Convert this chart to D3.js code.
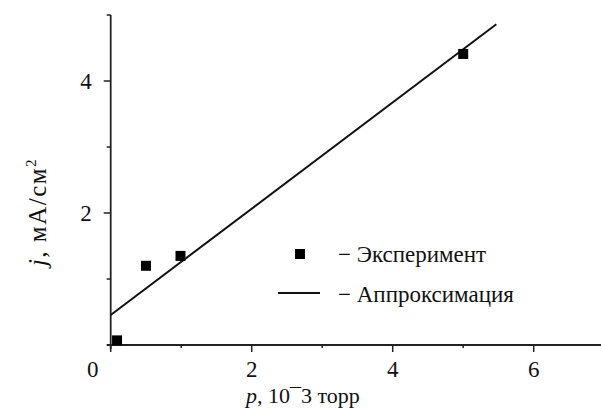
<!DOCTYPE html>
<html>
<head>
<meta charset="utf-8">
<script src="https://cdn.jsdelivr.net/npm/d3@7"></script>
<style>
  body { margin: 0; background: #fff; }
  text, tspan { font-family: 'Liberation Serif', 'Times New Roman', Tinos, serif !important; }
</style>
</head>
<body>
<svg id="chart" width="601" height="409"></svg>
<script>
// experiment points (p, j)
var expP = [0.09, 0.5, 0.99, 5.0];
var expJ = [0.07, 1.2, 1.35, 4.41];
// approximation line end points
var fitP = [0, 5.47];
var fitJ = [0.455, 4.86];

var xMajor = [0, 2, 4, 6];
var xMinor = [1, 3, 5];
var yMajor = [2, 4];
var yMinor = [1, 3, 5];

var legendNames = ["\u2212 Эксперимент", "\u2212 Аппроксимация"];

var FONT = "'Liberation Serif'";
var svg = d3.select("#chart");

var x = d3.scaleLinear().domain([0, 7]).range([110.7, 604.2]);
var y = d3.scaleLinear().domain([0, 5]).range([345, 15]);

var axisColor = "#222";
var textColor = "#111";

// x axis
var gx = svg.append("g").attr("transform", "translate(0," + y(0) + ")");
gx.append("line")
    .attr("x1", x(0) - 4).attr("x2", 601)
    .attr("stroke", axisColor).attr("stroke-width", 1.8);
gx.selectAll(".xmaj").data(xMajor).enter().append("line")
    .attr("x1", function(d) { return x(d); })
    .attr("x2", function(d) { return x(d); })
    .attr("y1", 0).attr("y2", 7)
    .attr("stroke", axisColor).attr("stroke-width", 1.5);
gx.selectAll(".xmin").data(xMinor).enter().append("line")
    .attr("x1", function(d) { return x(d); })
    .attr("x2", function(d) { return x(d); })
    .attr("y1", 0).attr("y2", 3)
    .attr("stroke", axisColor).attr("stroke-width", 1.5);
gx.selectAll(".xlab").data(xMajor).enter().append("text")
    .attr("x", function(d) { return d === 0 ? x(d) - 18 : x(d); })
    .attr("y", 32)
    .attr("text-anchor", "middle")
    .attr("font-size", 23)
    .attr("fill", textColor)
    .style("font-family", FONT, "important")
    .text(function(d) { return d; });

// y axis
var gy = svg.append("g").attr("transform", "translate(" + x(0) + ",0)");
gy.append("line")
    .attr("y1", y(0) + 4).attr("y2", y(5))
    .attr("stroke", axisColor).attr("stroke-width", 1.8);
gy.selectAll(".ymaj").data(yMajor).enter().append("line")
    .attr("y1", function(d) { return y(d); })
    .attr("y2", function(d) { return y(d); })
    .attr("x1", 0).attr("x2", -7)
    .attr("stroke", axisColor).attr("stroke-width", 1.5);
gy.selectAll(".ymin").data(yMinor).enter().append("line")
    .attr("y1", function(d) { return y(d); })
    .attr("y2", function(d) { return y(d); })
    .attr("x1", 0).attr("x2", -4)
    .attr("stroke", axisColor).attr("stroke-width", 1.5);
gy.selectAll(".ylab").data(yMajor).enter().append("text")
    .attr("x", -19)
    .attr("y", function(d) { return y(d) + 8; })
    .attr("text-anchor", "end")
    .attr("font-size", 23)
    .attr("fill", textColor)
    .style("font-family", FONT, "important")
    .text(function(d) { return d; });

// axis titles
var xt = svg.append("text")
    .attr("x", 246).attr("y", 403)
    .attr("font-size", 22)
    .attr("fill", textColor)
    .style("font-family", FONT, "important");
xt.append("tspan").attr("font-style", "italic").text("p");
xt.append("tspan").text(", 10\u00AF3 торр");

var yt = svg.append("text")
    .attr("transform", "translate(46,212) rotate(-90)")
    .attr("text-anchor", "middle")
    .attr("font-size", 25)
    .attr("letter-spacing", 1.5)
    .attr("fill", textColor)
    .style("font-family", FONT, "important");
yt.append("tspan").attr("font-style", "italic").text("j");
yt.append("tspan").text(", мА/см");
yt.append("tspan").attr("dy", -10).attr("font-size", 15).text("2");

// approximation line
var line = d3.line()
    .x(function(d) { return x(d[0]); })
    .y(function(d) { return y(d[1]); });
svg.append("path")
    .datum(d3.zip(fitP, fitJ))
    .attr("fill", "none")
    .attr("stroke", "#111")
    .attr("stroke-width", 2)
    .attr("d", line);

// experiment points
var sq = 10;
svg.selectAll(".pt").data(d3.zip(expP, expJ)).enter().append("rect")
    .attr("x", function(d) { return x(d[0]) - sq / 2; })
    .attr("y", function(d) { return y(d[1]) - sq / 2; })
    .attr("width", sq).attr("height", sq)
    .attr("fill", "#000");

// legend
svg.append("rect")
    .attr("x", 295).attr("y", 249).attr("width", 10).attr("height", 10)
    .attr("fill", "#000");
svg.append("line")
    .attr("x1", 278).attr("x2", 320).attr("y1", 293).attr("y2", 293)
    .attr("stroke", "#111").attr("stroke-width", 2);
svg.selectAll(".leg").data(legendNames).enter().append("text")
    .attr("x", 338)
    .attr("y", function(d, i) { return 262 + i * 40; })
    .attr("font-size", 23)
    .attr("fill", textColor)
    .style("font-family", FONT, "important")
    .text(function(d) { return d; });
</script>
</body>
</html>
